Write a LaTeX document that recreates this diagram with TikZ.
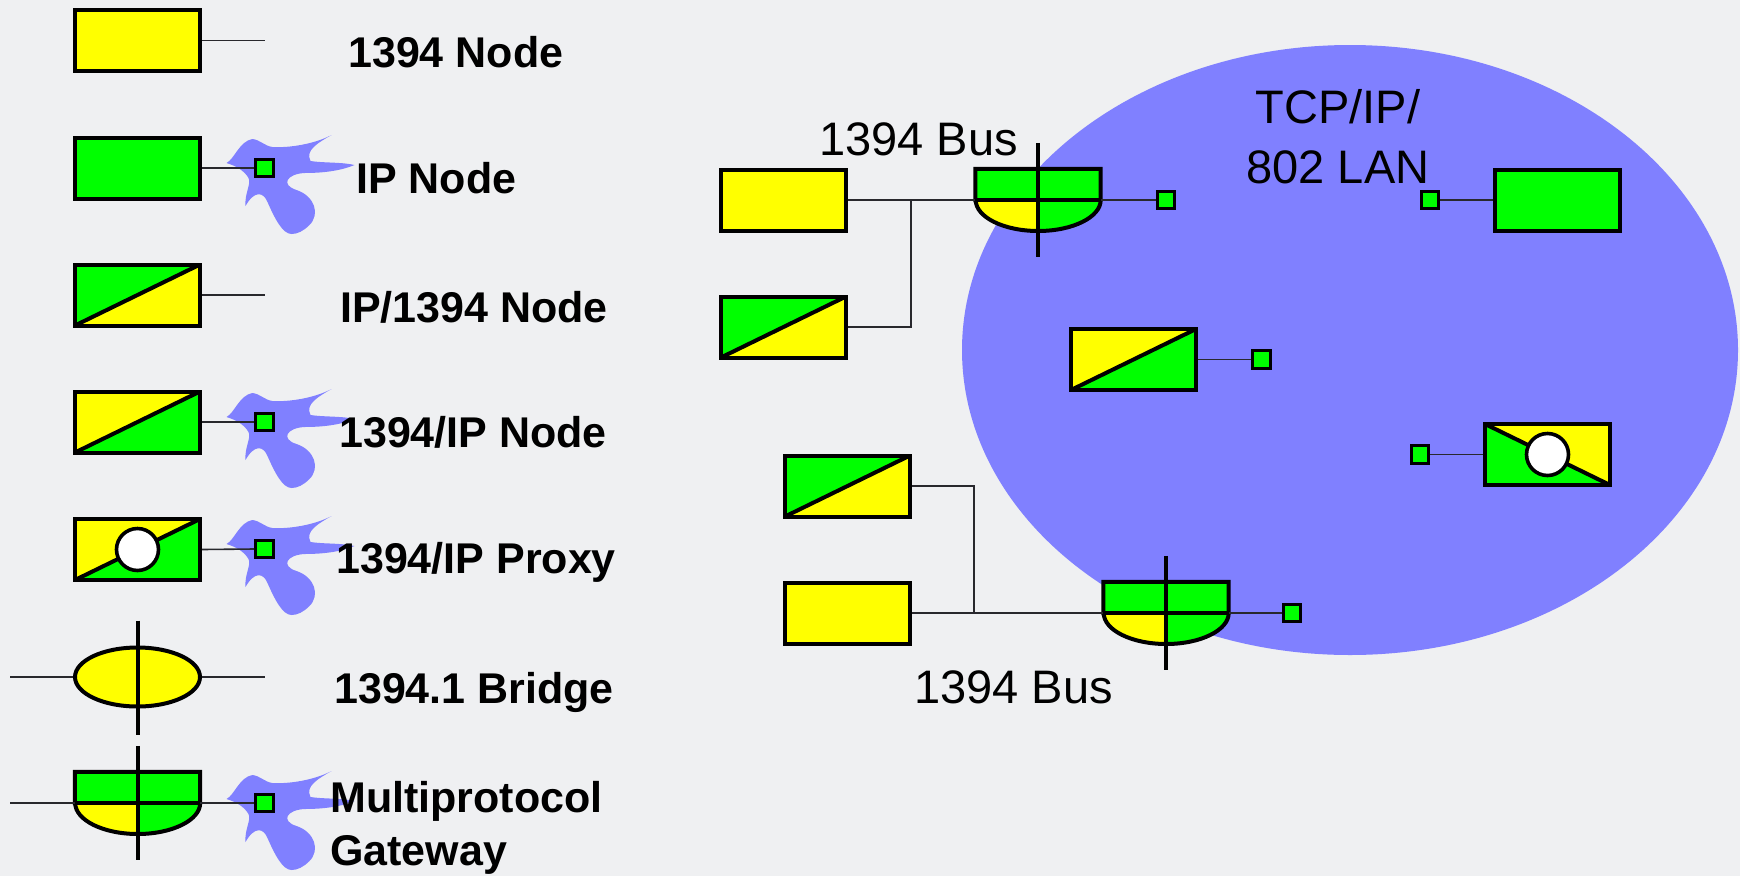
\documentclass[tikz,border=0pt]{standalone}
\usepackage{fontspec}
\setmainfont{Liberation Sans}
\usetikzlibrary{shapes.geometric}

\definecolor{fwyellow}{RGB}{255,255,0}
\definecolor{ipgreen}{RGB}{0,255,0}
\definecolor{lanblue}{RGB}{128,128,255}
\definecolor{slidebg}{RGB}{239,240,242}
\definecolor{wiregray}{RGB}{40,40,45}

\tikzset{
  devbox/.style={draw, line width=4pt, minimum width=125pt, minimum height=61pt, inner sep=0pt},
  fwnode/.style={devbox, fill=fwyellow},
  ipnode/.style={devbox, fill=ipgreen},
  % box cut along a diagonal: colour above/left, colour below/right, diagonal ends
  halfcell/.style n args={4}{devbox, path picture={
      \fill[#1] (path picture bounding box.#3) |- (path picture bounding box.#4) -- cycle;
      \fill[#2] (path picture bounding box.#3) -| (path picture bounding box.#4) -- cycle;
      \draw[line width=4pt] (path picture bounding box.#3) -- (path picture bounding box.#4);}},
  ipfw/.style={halfcell={ipgreen}{fwyellow}{south west}{north east}},
  fwip/.style={halfcell={fwyellow}{ipgreen}{south west}{north east}},
  fwipflip/.style={halfcell={ipgreen}{fwyellow}{north west}{south east}},
  hole/.style={circle, draw, line width=3.6pt, fill=white, minimum size=42pt, inner sep=0pt},
  bridge/.style={ellipse, draw, line width=4pt, fill=fwyellow, minimum width=125pt, minimum height=59pt, inner sep=0pt},
  gwframe/.style={minimum width=125pt, minimum height=62pt, inner sep=0pt},
  port/.style={draw, line width=3.4pt, fill=ipgreen, minimum size=17.5pt, inner sep=0pt},
  wire/.style={draw=wiregray, line width=1.6pt},
  thickbar/.style={line width=4pt},
  keytext/.style={font=\bfseries\fontsize{43}{53}\selectfont, anchor=base west, inner sep=0pt, align=left},
  bustext/.style={font=\fontsize{47}{60}\selectfont, inner sep=0pt, align=center},
  pics/splat/.style={code={
      \fill[lanblue] (-38,-5) .. controls (-30,-9) and (-25,-27) .. (-12,-29)
        .. controls (-4,-28) and (0,-22) .. (8,-21)
        .. controls (25,-20) and (50,-24) .. (67,-33)
        .. controls (55,-26) and (40,-18) .. (46,-7)
        .. controls (58,-5) and (78,-6) .. (90,-3)
        .. controls (78,2) and (62,5) .. (40,5)
        .. controls (22,6) and (16,17) .. (32,22)
        .. controls (50,28) and (56,46) .. (45,57)
        .. controls (39,63) and (33,66) .. (27,66)
        .. controls (18,66) and (10,50) .. (3,34)
        .. controls (-1,24) and (-10,22) .. (-19,38)
        .. controls (-20,25) and (-13,16) .. (-16,10)
        .. controls (-20,3) and (-28,-2) .. cycle;}}
}

% multiprotocol gateway: name, x, y of the bus line
\newcommand{\gatewaysym}[3]{%
  \node[gwframe] (#1) at (#2,#3) {};
  \fill[ipgreen] (#1.north west) rectangle (#1.east);
  \fill[fwyellow] (#1.west) arc[start angle=180, end angle=270, x radius=62.5pt, y radius=31pt] -- (#1.center) -- cycle;
  \fill[ipgreen] (#1.south) arc[start angle=270, end angle=360, x radius=62.5pt, y radius=31pt] -- (#1.center) -- cycle;
  \draw[thickbar] (#1.west) |- (#1.north east) -- (#1.east)
    arc[start angle=0, end angle=-180, x radius=62.5pt, y radius=31pt] -- cycle;
  \draw[thickbar] (#1.west) -- (#1.east);
  \draw[thickbar] ([yshift=26pt]#1.north) -- ([yshift=-26pt]#1.south);
}

\begin{document}
\begin{tikzpicture}[x=1pt, y=-1pt]
  \fill[slidebg] (0,0) rectangle (1740,876);
  \useasboundingbox (0,0) rectangle (1740,876);
  % LAN cloud
  \fill[lanblue] (1350,350) ellipse [x radius=388pt, y radius=305pt];
  % splats behind the IP ports of the key
  \foreach \y in {168,422,549,804}
    \pic at (264.5,\y) {splat};

  % key symbols
  \node[fwnode] (k1) at (137.5,40.5) {};
  \node[ipnode] (k2) at (137.5,168) {};
  \node[ipfw] (k3) at (137.5,295) {};
  \node[fwip] (k4) at (137.5,422) {};
  \node[fwip] (k5) at (137.5,549.5) {};
  \node[hole] (k5c) at (k5) {};
  \node[bridge] (k6) at (137.5,677) {};
  \draw[thickbar] ([yshift=25pt]k6.north) -- ([yshift=-26pt]k6.south);
  \gatewaysym{k7}{137.5}{803}
  \node[port] (q2) at (264.5,168) {};
  \node[port] (q4) at (264.5,422) {};
  \node[port] (q5) at (264.5,549) {};
  \node[port] (q7) at (264.5,803) {};
  \coordinate (e1) at (265,40.5);
  \coordinate (e3) at (265,295);
  \coordinate (e6l) at (10,677);
  \coordinate (e6r) at (265,677);
  \coordinate (e7) at (10,803);
  \draw[wire] (k1.east) -- (e1);
  \draw[wire] (k2.east) -- (q2.west);
  \draw[wire] (k3.east) -- (e3);
  \draw[wire] (k4.east) -- (q4.west);
  \draw[wire] (k5.east) -- (q5.west);
  \draw[wire] (e6l) -- (k6.west);
  \draw[wire] (k6.east) -- (e6r);
  \draw[wire] (e7) -- (k7.west);
  \draw[wire] (k7.east) -- (q7.west);

  % key texts
  \node[keytext] (t1) at (348,67) {1394 Node};
  \node[keytext] (t2) at (356,193) {IP Node};
  \node[keytext] (t3) at (340,322) {IP/1394 Node};
  \node[keytext] (t4) at (339,447) {1394/IP Node};
  \node[keytext] (t5) at (336,573) {1394/IP Proxy};
  \node[keytext] (t6) at (334,703) {1394.1 Bridge};
  \node[keytext] (t7) at (330,865) {Multiprotocol\\Gateway};

  % upper 1394 bus
  \node[fwnode] (y1) at (783.5,200) {};
  \node[ipfw] (a1) at (783.5,327) {};
  \gatewaysym{g1}{1038}{200}
  \node[port] (s1) at (1166,200) {};
  \coordinate (jn1) at (911,200);
  \draw[wire] (y1.east) -- (g1.west);
  \draw[wire] (a1.east) -| (jn1);
  \draw[wire] (g1.east) -- (s1.west);
  \node[bustext, anchor=base west] (bus1) at (819,155) {1394 Bus};

  % hosts on the LAN
  \node[ipnode] (h1) at (1557.5,200) {};
  \node[port] (s2) at (1430,200) {};
  \draw[wire] (s2.east) -- (h1.west);
  \node[fwip] (h2) at (1133.5,359.5) {};
  \node[port] (s3) at (1261.5,359.5) {};
  \draw[wire] (h2.east) -- (s3.west);
  \node[fwipflip] (h3) at (1547.5,454.5) {};
  \node[hole] (h3c) at (h3) {};
  \node[port] (s4) at (1420,454.5) {};
  \draw[wire] (s4.east) -- (h3.west);
  \node[bustext, anchor=base] (lan) at (1338,183) {TCP/IP/\\802 LAN};

  % lower 1394 bus
  \node[ipfw] (a2) at (847.5,486) {};
  \node[fwnode] (y2) at (847.5,613) {};
  \gatewaysym{g2}{1166}{613}
  \node[port] (s5) at (1292,613) {};
  \coordinate (jn2) at (974,613);
  \draw[wire] (y2.east) -- (g2.west);
  \draw[wire] (a2.east) -| (jn2);
  \draw[wire] (g2.east) -- (s5.west);
  \node[bustext, anchor=base west] (bus2) at (914,703) {1394 Bus};
\end{tikzpicture}
\end{document}
